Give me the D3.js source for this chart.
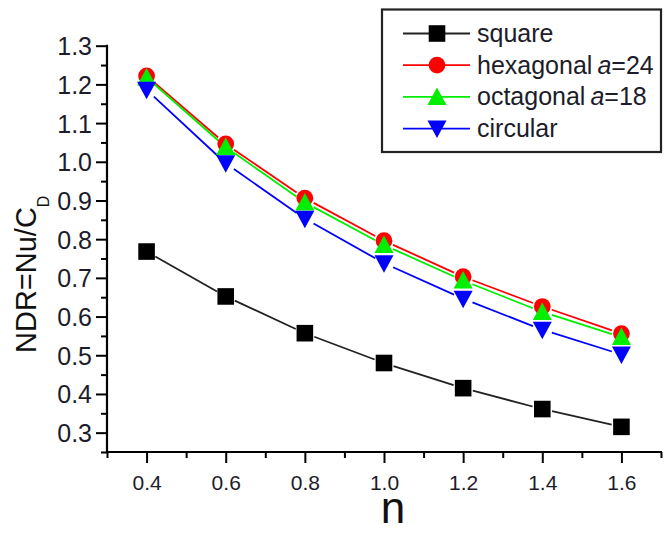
<!DOCTYPE html>
<html>
<head>
<meta charset="utf-8">
<script src="https://cdn.jsdelivr.net/npm/d3@7"></script>
<style>
  body { margin: 0; background: #fff; }
  svg { display: block; font-family: "Liberation Sans", Arial, sans-serif; }
</style>
</head>
<body>
<svg width="665" height="534"></svg>
<script>
const N_VALUES = [0.4, 0.6, 0.8, 1.0, 1.2, 1.4, 1.6];
const SQUARE = [0.768, 0.652, 0.557, 0.480, 0.415, 0.361, 0.315];
const HEXAGONAL = [1.222, 1.046, 0.906, 0.796, 0.703, 0.626, 0.556];
const OCTAGONAL = [1.218, 1.038, 0.895, 0.785, 0.693, 0.612, 0.547];
const CIRCULAR = [1.186, 0.996, 0.853, 0.738, 0.646, 0.566, 0.502];

const X_TICKS = [0.4, 0.6, 0.8, 1.0, 1.2, 1.4, 1.6];
const X_MINOR = [0.3, 0.5, 0.7, 0.9, 1.1, 1.3, 1.5, 1.7];
const Y_TICKS = [0.3, 0.4, 0.5, 0.6, 0.7, 0.8, 0.9, 1.0, 1.1, 1.2, 1.3];
const Y_MINOR = [0.25, 0.35, 0.45, 0.55, 0.65, 0.75, 0.85, 0.95, 1.05, 1.15, 1.25];

const series = [
  { name: "square", values: SQUARE, color: "#000", line: "#222", symbol: "square" },
  { name: "hexagonal", a: "24", values: HEXAGONAL, color: "#ff0000", line: "#ff0000", symbol: "circle" },
  { name: "octagonal", a: "18", values: OCTAGONAL, color: "#00ee00", line: "#00ee00", symbol: "up" },
  { name: "circular", values: CIRCULAR, color: "#0000ff", line: "#0000ff", symbol: "down" },
];

const svg = d3.select("svg");
const x = d3.scaleLinear().domain([0.3, 1.7]).range([107, 661]);
const y = d3.scaleLinear().domain([0.25, 1.3]).range([452, 45.7]);

// marker shapes, centred on 0,0
function markerPath(sym) {
  if (sym === "square") return "M-8.3,-8.3H8.3V8.3H-8.3Z";
  if (sym === "circle") return d3.symbol(d3.symbolCircle, 220)();
  if (sym === "up") return "M0,-9.5L9.5,8L-9.5,8Z";
  return "M0,9.5L9.5,-8L-9.5,-8Z";
}

// axes (left and bottom only)
const axisColor = "#000";
const xAxis = svg.append("g").attr("transform", "translate(0,452)")
  .call(d3.axisBottom(x).tickValues(X_TICKS).tickSize(11).tickFormat(d3.format(".1f")));
svg.append("g").attr("transform", "translate(0,452)")
  .call(d3.axisBottom(x).tickValues(X_MINOR).tickSize(6).tickFormat(""))
  .call(g => g.select(".domain").remove());
const yAxis = svg.append("g").attr("transform", "translate(107,0)")
  .call(d3.axisLeft(y).tickValues(Y_TICKS).tickSize(11).tickFormat(d3.format(".1f")));
svg.append("g").attr("transform", "translate(107,0)")
  .call(d3.axisLeft(y).tickValues(Y_MINOR).tickSize(6).tickFormat(""))
  .call(g => g.select(".domain").remove());

xAxis.select(".domain").attr("d", `M${x(0.3) - 1},0H${x(1.7) + 1}`);
yAxis.select(".domain").attr("d", `M0,${y(0.25) + 1}V${y(1.3) - 1}`);
svg.selectAll(".domain").attr("stroke", axisColor).attr("stroke-width", 2.2);
svg.selectAll(".tick line").attr("stroke", axisColor).attr("stroke-width", 2);

xAxis.selectAll(".tick text").attr("y", 23).attr("font-size", 21)
  .attr("fill", "#1c1c2a").attr("font-family", "Liberation Sans, Arial, sans-serif");
yAxis.selectAll(".tick text").attr("x", -15).attr("dy", "0.36em").attr("font-size", 25)
  .attr("fill", "#1c1c2a").attr("font-family", "Liberation Sans, Arial, sans-serif");

// axis titles
svg.append("text").attr("x", 393).attr("y", 523).attr("text-anchor", "middle")
  .attr("font-size", 44).attr("fill", "#111").text("n");

const yTitle = svg.append("text")
  .attr("transform", "translate(36,353) rotate(-90)")
  .attr("font-size", 29).attr("fill", "#111");
yTitle.append("tspan").text("NDR=Nu/C");
yTitle.append("tspan").attr("font-size", 16).attr("dy", 13).text("D");

// series lines, broken around the markers
const gap = 10;
series.forEach(s => {
  const pts = N_VALUES.map((n, i) => [x(n), y(s.values[i])]);
  const g = svg.append("g");
  for (let i = 0; i < pts.length - 1; i++) {
    const [x0, y0] = pts[i], [x1, y1] = pts[i + 1];
    const len = Math.hypot(x1 - x0, y1 - y0);
    const ux = (x1 - x0) / len, uy = (y1 - y0) / len;
    g.append("line")
      .attr("x1", x0 + ux * gap).attr("y1", y0 + uy * gap)
      .attr("x2", x1 - ux * gap).attr("y2", y1 - uy * gap)
      .attr("stroke", s.line).attr("stroke-width", 1.8);
  }
});

series.forEach(s => {
  svg.append("g").selectAll("path")
    .data(N_VALUES.map((n, i) => [n, s.values[i]]))
    .join("path")
    .attr("d", markerPath(s.symbol))
    .attr("transform", d => `translate(${x(d[0])},${y(d[1])})`)
    .attr("fill", s.color);
});

// legend
const legend = svg.append("g");
legend.append("rect").attr("x", 382).attr("y", 9.5).attr("width", 279).attr("height", 142.5)
  .attr("fill", "#fff").attr("stroke", "#222").attr("stroke-width", 2.2);
series.forEach((s, i) => {
  const ly = 33.5 + i * 31.7;
  legend.append("line").attr("x1", 403).attr("x2", 470).attr("y1", ly).attr("y2", ly)
    .attr("stroke", s.line).attr("stroke-width", 1.8);
  legend.append("path").attr("d", markerPath(s.symbol))
    .attr("transform", `translate(437,${ly})`).attr("fill", s.color);
  const t = legend.append("text").attr("x", 477).attr("y", ly + 8.5)
    .attr("font-size", 25).attr("fill", "#1c1c2a");
  t.append("tspan").text(s.name);
  if (s.a) {
    t.append("tspan").attr("dx", 5).attr("font-style", "italic").text("a");
    t.append("tspan").text("=" + s.a);
  }
});
</script>
</body>
</html>
